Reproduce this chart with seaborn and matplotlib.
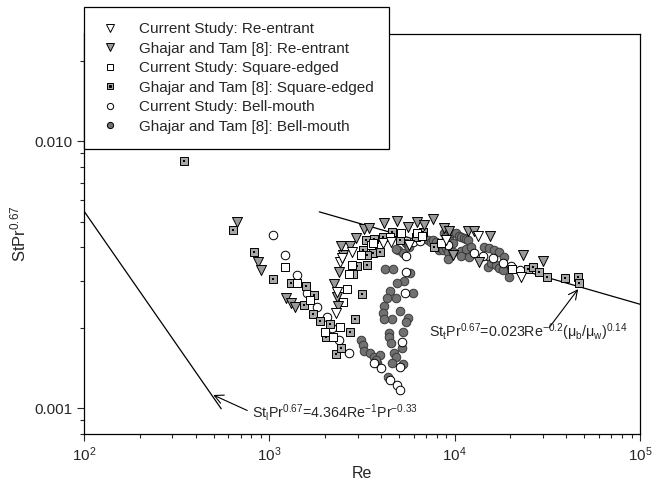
import numpy as np
import pandas as pd
import matplotlib
matplotlib.use("Agg")
import matplotlib.pyplot as plt
import seaborn as sns
from matplotlib.lines import Line2D
from matplotlib.ticker import FixedLocator, FuncFormatter, LogLocator, NullFormatter

# Current Study: Re-entrant
cur_re_x = [2420, 2481, 2810, 2330, 2303, 4083, 4511, 22790, 5646, 8950, 13330]
cur_re_y = [0.00353, 0.00365, 0.00384, 0.00272, 0.00227, 0.00415, 0.00419, 0.00310, 0.00408, 0.00426, 0.00442]

# Ghajar and Tam [8]: Re-entrant
gt_re_x = [671, 873, 905, 1235, 1314, 1381, 2245, 2330, 2360, 2390, 2512, 2450, 2708, 2917, 3222, 3430,
           4134, 4863, 5575, 6240, 6805, 7613, 8731, 9294, 11770, 12680, 15490, 9767, 13500, 23360, 29980]
gt_re_y = [0.00497, 0.00353, 0.00329, 0.00258, 0.00247, 0.00239, 0.00292, 0.00261, 0.00241, 0.00323, 0.00375,
           0.00405, 0.00405, 0.00434, 0.00468, 0.00472, 0.00493, 0.00502, 0.00476, 0.00497, 0.00485, 0.00511,
           0.00472, 0.00461, 0.00461, 0.00461, 0.00442, 0.00375, 0.00353, 0.00375, 0.00356]

# Current Study: Square-edged
cur_sq_x = [1219, 1416, 1665, 2007, 2217, 2420, 2512, 2609, 2674, 2810, 3104, 3516, 3605, 4457, 5110, 6240,
            6640, 8411, 20370]
cur_sq_y = [0.00338, 0.00294, 0.00254, 0.00193, 0.00184, 0.00201, 0.00250, 0.00279, 0.00318, 0.00344, 0.00375,
            0.00408, 0.00415, 0.00438, 0.00453, 0.00453, 0.00442, 0.00415, 0.00332]

# Ghajar and Tam [8]: Square-edged
gt_sq_x = [347, 638, 830, 1050, 1314, 1585, 1750, 1545, 1728, 1886, 2136, 2033, 2303, 2450, 2708, 2881, 3143,
           2845, 2990, 3346, 3182, 3605, 3934, 3346, 3303, 3650, 4083, 4567, 5048, 6158, 6721, 7708, 24860,
           26460, 28520, 31520, 39420, 46360, 46950]
gt_sq_y = [0.00842, 0.00465, 0.00384, 0.00305, 0.00294, 0.00287, 0.00265, 0.00243, 0.00225, 0.00212, 0.00207,
           0.00184, 0.00159, 0.00168, 0.00193, 0.00216, 0.00268, 0.00318, 0.00341, 0.00344, 0.00391, 0.00381,
           0.00384, 0.00375, 0.00426, 0.00430, 0.00438, 0.00457, 0.00426, 0.00438, 0.00457, 0.00401, 0.00332,
           0.00338, 0.00323, 0.00310, 0.00307, 0.00310, 0.00294]

# Current Study: Bell-mouth
cur_bm_x = [1052, 1219, 1416, 1604, 1817, 2058, 2190, 2390, 2674, 3650, 3983, 4455, 4863, 5048, 5048, 5174,
            5371, 5437, 5437, 5934, 6477, 8411, 9177, 12680, 14190, 16080, 18210, 20120, 22510]
cur_bm_y = [0.00445, 0.00375, 0.00315, 0.00270, 0.00239, 0.00219, 0.00200, 0.00180, 0.00161, 0.00148, 0.00141,
            0.00128, 0.00122, 0.00117, 0.00143, 0.00177, 0.00270, 0.00323, 0.00371, 0.00419, 0.00422, 0.00415,
            0.00408, 0.00381, 0.00371, 0.00365, 0.00350, 0.00341, 0.00329]

# Ghajar and Tam [8]: Bell-mouth (transition dip, then turbulent band)
gt_bm_x = [4186, 4625, 5718, 5304, 4457, 5934, 4294, 4134, 4083, 5048, 4567, 4134, 5575, 5437, 5239, 4401,
           4401, 4511, 5174, 4682, 4800, 5239, 4567, 3104, 3182, 3222, 3473, 3650, 3934, 3790, 3741, 4345,
           4863, 4800,
           4922, 5239, 5437, 5575, 5646, 7153, 7426, 7613, 7901, 8206, 8206, 8623, 8731, 8950, 8950, 9177,
           9177, 9294, 9527, 9767, 9767, 10137, 10527, 10790, 10790, 10790, 11200, 11480, 11480, 11770,
           11920, 12220, 14370, 15100, 15290, 15680, 16280, 16680, 17330, 17330, 18210, 18430, 19620, 4800]
gt_bm_y = [0.00332, 0.00332, 0.00321, 0.00299, 0.00275, 0.00270, 0.00258, 0.00241, 0.00227, 0.00231, 0.00216,
           0.00216, 0.00218, 0.00210, 0.00193, 0.00191, 0.00184, 0.00175, 0.00168, 0.00161, 0.00155, 0.00146,
           0.00148, 0.00180, 0.00172, 0.00164, 0.00161, 0.00155, 0.00158, 0.00148, 0.00152, 0.00131,
           0.00294, 0.00258,
           0.00391, 0.00381, 0.00415, 0.00408, 0.00401, 0.00426, 0.00419, 0.00426, 0.00419, 0.00408, 0.00391,
           0.00391, 0.00453, 0.00442, 0.00398, 0.00384, 0.00362, 0.00434, 0.00453, 0.00415, 0.00384, 0.00453,
           0.00442, 0.00438, 0.00388, 0.00371, 0.00434, 0.00430, 0.00395, 0.00426, 0.00368, 0.00401, 0.00401,
           0.00338, 0.00398, 0.00350, 0.00391, 0.00344, 0.00384, 0.00335, 0.00329, 0.00368, 0.00310, 0.00395]

# correlation lines
lam_coef = 0.547      # St_l Pr^0.67 = 4.364 Re^-1 Pr^-0.33
lam_re = [100, 550]
turb_coef = 0.0245    # St_t Pr^0.67 = 0.023 Re^-0.2 (mu_b/mu_w)^0.14
turb_re = [1860, 100000]

labels = ["Current Study: Re-entrant", "Ghajar and Tam [8]: Re-entrant",
          "Current Study: Square-edged", "Ghajar and Tam [8]: Square-edged",
          "Current Study: Bell-mouth", "Ghajar and Tam [8]: Bell-mouth"]

sns.set_style("ticks")
plt.rcParams["font.family"] = ["Liberation Sans", "DejaVu Sans"]
plt.rcParams["mathtext.default"] = "regular"

fig = plt.figure(figsize=(6.53, 4.82), dpi=100)
ax = fig.add_axes([84 / 653, 48 / 482, 556 / 653, 400 / 482])

tri_gray = "#9a9a9a"
sq_gray = "#a8a8a8"
circ_gray = "#717171"

# lines
x = np.logspace(np.log10(lam_re[0]), np.log10(lam_re[1]), 50)
sns.lineplot(x=x, y=lam_coef / x, ax=ax, color="black", lw=0.9)
x = np.logspace(np.log10(turb_re[0]), np.log10(turb_re[1]), 50)
sns.lineplot(x=x, y=turb_coef * x ** -0.2, ax=ax, color="black", lw=0.9)

# data
sns.scatterplot(x=gt_bm_x, y=gt_bm_y, ax=ax, marker="o", s=38, color=circ_gray, edgecolor="#3a3a3a", linewidth=0.7, zorder=3)
sns.scatterplot(x=cur_bm_x, y=cur_bm_y, ax=ax, marker="o", s=38, color="white", edgecolor="black", linewidth=0.7, zorder=3)
sns.scatterplot(x=gt_sq_x, y=gt_sq_y, ax=ax, marker="s", s=36, color=sq_gray, edgecolor="black", linewidth=0.7, zorder=3)
sns.scatterplot(x=gt_sq_x, y=gt_sq_y, ax=ax, marker="s", s=2, color="black", edgecolor="black", linewidth=0, zorder=3)
sns.scatterplot(x=cur_sq_x, y=cur_sq_y, ax=ax, marker="s", s=36, color="white", edgecolor="black", linewidth=0.7, zorder=3)
sns.scatterplot(x=gt_re_x, y=gt_re_y, ax=ax, marker="v", s=52, color=tri_gray, edgecolor="black", linewidth=0.7, zorder=3)
sns.scatterplot(x=cur_re_x, y=cur_re_y, ax=ax, marker="v", s=52, color="white", edgecolor="black", linewidth=0.7, zorder=3)

ax.set_xscale("log")
ax.set_yscale("log")
ax.set_xlim(100, 1e5)
ax.set_ylim(0.0008, 0.0252)

ax.yaxis.set_major_locator(FixedLocator([0.001, 0.01]))
ax.yaxis.set_major_formatter(FuncFormatter(lambda v, p: f"{v:.3f}"))
ax.yaxis.set_minor_locator(LogLocator(base=10, subs=np.arange(2, 10)))
ax.yaxis.set_minor_formatter(NullFormatter())
ax.xaxis.set_minor_locator(LogLocator(base=10, subs=np.arange(2, 10)))
ax.xaxis.set_minor_formatter(NullFormatter())
ax.tick_params(which="both", direction="out", top=False, right=False, width=0.8, labelsize=11)
ax.tick_params(which="major", length=5)
ax.tick_params(which="minor", length=3)
for sp in ax.spines.values():
    sp.set_linewidth(0.9)
    sp.set_color("black")

ax.set_xlabel("Re", fontsize=11.5, labelpad=1)
ax.set_ylabel("StPr$^{0.67}$", fontsize=12, labelpad=4)

# annotations
arrow = dict(arrowstyle="->", lw=0.8, color="black", shrinkA=0, shrinkB=0, mutation_scale=16)
ax.annotate("", xy=(498, 0.00112), xytext=(760, 0.00098), arrowprops=arrow)
ax.text(810, 0.000965, r"St$_l$Pr$^{0.67}$=4.364Re$^{-1}$Pr$^{-0.33}$", fontsize=10.3, va="center", ha="left")
ax.annotate("", xy=(46360, 0.00279), xytext=(32300, 0.0020), arrowprops=arrow)
ax.text(7245, 0.00192, r"St$_t$Pr$^{0.67}$=0.023Re$^{-0.2}$($\mu_b$/$\mu_w$)$^{0.14}$", fontsize=10.3, va="center", ha="left")

# legend
ms = dict(linestyle="none", markeredgecolor="black", markeredgewidth=0.7)
handles = [
    Line2D([], [], marker="v", markersize=5.5, markerfacecolor="white", **ms),
    Line2D([], [], marker="v", markersize=5.5, markerfacecolor=tri_gray, **ms),
    Line2D([], [], marker="s", markersize=4.5, markerfacecolor="white", **ms),
    (Line2D([], [], marker="s", markersize=4.5, markerfacecolor=sq_gray, **ms),
     Line2D([], [], marker="s", markersize=1.2, color="black", linestyle="none")),
    Line2D([], [], marker="o", markersize=4.5, markerfacecolor="white", **ms),
    Line2D([], [], marker="o", markersize=4.5, markerfacecolor=circ_gray, **ms),
]
leg = ax.legend(handles, labels, loc="upper left", bbox_to_anchor=(84 / 653, 1 - 7 / 482),
                bbox_transform=fig.transFigure, borderaxespad=0, fontsize=11, frameon=True,
                fancybox=False, edgecolor="black", framealpha=1, handlelength=1.4,
                handletextpad=1.2, borderpad=1.0, labelspacing=0.36)
leg.get_frame().set_linewidth(0.9)
leg.set_zorder(10)

fig.savefig("out.png", dpi=100)
